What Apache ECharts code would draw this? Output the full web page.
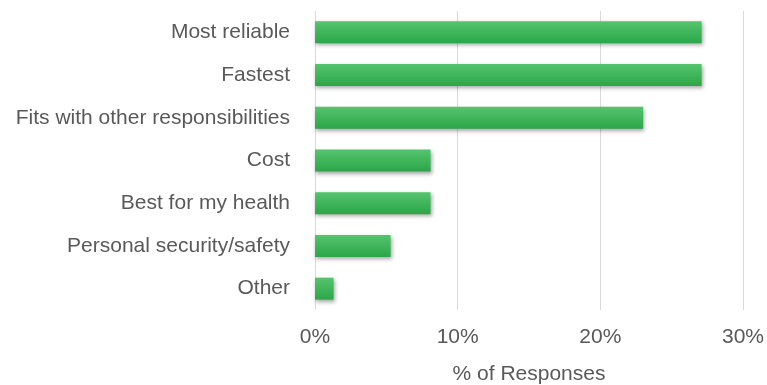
<!DOCTYPE html>
<html>
<head>
<meta charset="utf-8">
<script src="https://cdn.jsdelivr.net/npm/echarts@6/dist/echarts.min.js"></script>
<style>
  html, body { margin: 0; padding: 0; background: #fff; }
  #chart { width: 767px; height: 385px; }
</style>
</head>
<body>
<div id="chart"></div>
<script>
const categories = [
  'Most reliable',
  'Fastest',
  'Fits with other responsibilities',
  'Cost',
  'Best for my health',
  'Personal security/safety',
  'Other'
];
const responses = [27.1, 27.1, 23.0, 8.1, 8.1, 5.3, 1.3];
const xTicks = [0, 10, 20, 30];

const myChart = echarts.init(document.getElementById('chart'));
const textColor = '#595959';
const font = 'Liberation Sans, Arial, sans-serif';

const option = {
  animation: false,
  grid: { left: 315, right: 24, top: 11, bottom: 75, containLabel: false, outerBoundsMode: 'none' },
  xAxis: {
    type: 'value',
    min: xTicks[0],
    max: xTicks[xTicks.length - 1],
    interval: 10,
    name: '% of Responses',
    nameLocation: 'middle',
    nameGap: 54,
    nameTextStyle: { color: textColor, fontSize: 21, fontFamily: font },
    axisLine: { show: false },
    axisTick: { show: false },
    axisLabel: {
      color: textColor, fontSize: 21, fontFamily: font, margin: 17,
      formatter: v => v + '%'
    },
    splitLine: { show: true, lineStyle: { color: '#d9d9d9', width: 1 } }
  },
  yAxis: {
    type: 'category',
    data: categories,
    inverse: true,
    axisLine: { show: false },
    axisTick: { show: false },
    axisLabel: { color: textColor, fontSize: 21, fontFamily: font, margin: 25 }
  },
  series: [{
    type: 'bar',
    data: responses,
    barWidth: 22,
    itemStyle: {
      color: new echarts.graphic.LinearGradient(0, 0, 0, 1, [
        { offset: 0, color: '#55c46e' },
        { offset: 1, color: '#2ba648' }
      ]),
      shadowColor: 'rgba(0,0,0,0.35)',
      shadowBlur: 4,
      shadowOffsetX: 1,
      shadowOffsetY: 2
    }
  }]
};

myChart.setOption(option);
</script>
</body>
</html>
